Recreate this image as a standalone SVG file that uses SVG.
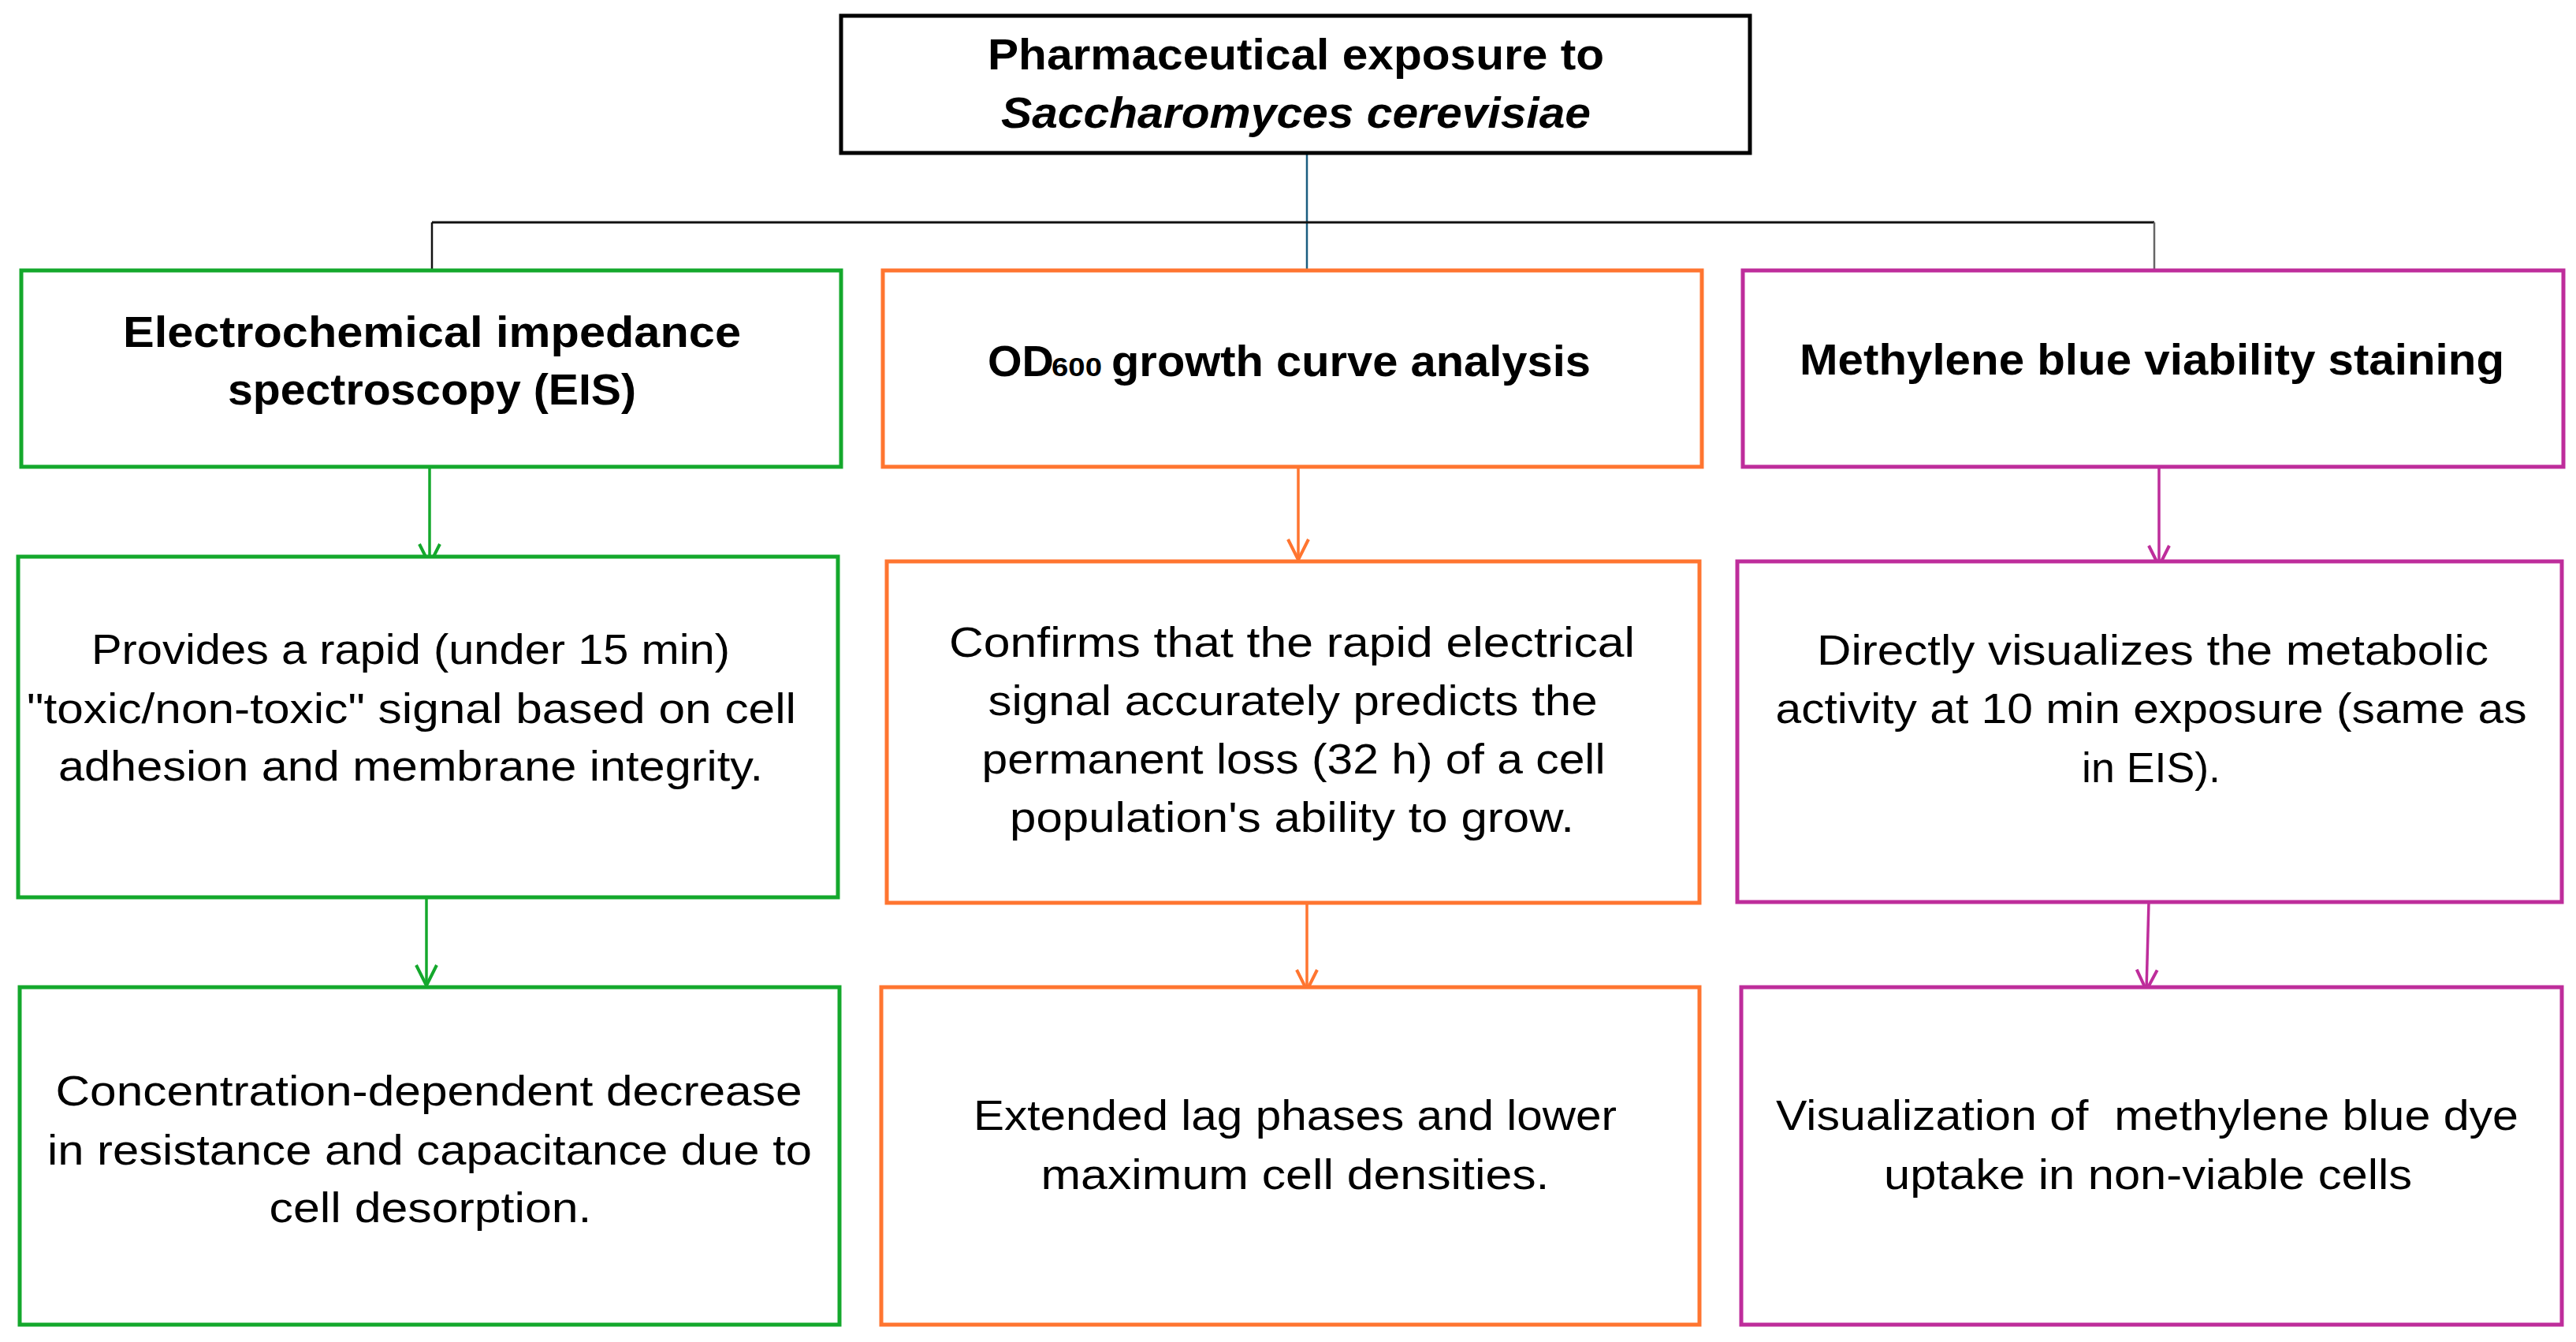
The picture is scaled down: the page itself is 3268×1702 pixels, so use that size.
<svg xmlns="http://www.w3.org/2000/svg" width="3268" height="1702" viewBox="0 0 3268 1702">
<style>
.t{font-family:"Liberation Sans",Arial,sans-serif;font-size:53px;fill:#000;text-anchor:middle}
.h{font-family:"Liberation Sans",Arial,sans-serif;font-size:56px;font-weight:bold;fill:#000;text-anchor:middle}
.bx{fill:#fff;stroke-width:5}
.g{stroke:#14A82C}.o{stroke:#FF7530}.m{stroke:#BE2D9B}
.ln{fill:none;stroke-width:3.5}
</style>
<defs>
<marker id="ag" markerUnits="userSpaceOnUse" viewBox="-30 -18 34 36" markerWidth="34" markerHeight="36" refX="0" refY="0" orient="auto"><path d="M-26,-13 L0,0 L-26,13" fill="none" stroke="#14A82C" stroke-width="4"/></marker>
<marker id="ao" markerUnits="userSpaceOnUse" viewBox="-30 -18 34 36" markerWidth="34" markerHeight="36" refX="0" refY="0" orient="auto"><path d="M-26,-13 L0,0 L-26,13" fill="none" stroke="#FF7530" stroke-width="4"/></marker>
<marker id="am" markerUnits="userSpaceOnUse" viewBox="-30 -18 34 36" markerWidth="34" markerHeight="36" refX="0" refY="0" orient="auto"><path d="M-26,-13 L0,0 L-26,13" fill="none" stroke="#BE2D9B" stroke-width="4"/></marker>
</defs>
<rect width="3268" height="1702" fill="#fff"/>

<g id="connectors">
<line x1="1658" y1="195" x2="1658" y2="343" stroke="#1B5E80" stroke-width="2.5"/>
<line x1="548" y1="282" x2="2733" y2="282" stroke="#111" stroke-width="3"/>
<line x1="548" y1="282" x2="548" y2="343" stroke="#111" stroke-width="2.5"/>
<line x1="2733" y1="282" x2="2733" y2="343" stroke="#666" stroke-width="2.5"/>
<line class="ln g" x1="545" y1="592" x2="545" y2="716" marker-end="url(#ag)"/>
<line class="ln g" x1="541" y1="1138" x2="541" y2="1250" marker-end="url(#ag)"/>
<line class="ln o" x1="1647" y1="592" x2="1647" y2="710" marker-end="url(#ao)"/>
<line class="ln o" x1="1658" y1="1137" x2="1658" y2="1256" marker-end="url(#ao)"/>
<line class="ln m" x1="2739" y1="592" x2="2739" y2="718" marker-end="url(#am)"/>
<line class="ln m" x1="2726" y1="1144" x2="2723" y2="1256" marker-end="url(#am)"/>
</g>

<g id="root">
<rect class="bx" x="1067" y="20" width="1153" height="174" stroke="#000"/>
<text class="h" x="1644" y="88" textLength="782" lengthAdjust="spacingAndGlyphs">Pharmaceutical exposure to</text>
<text class="h" x="1644" y="162" font-style="italic" textLength="748" lengthAdjust="spacingAndGlyphs">Saccharomyces cerevisiae</text>
</g>

<g id="eis">
<rect class="bx g" x="27" y="343" width="1040" height="249"/>
<text class="h" x="548" y="440" textLength="784" lengthAdjust="spacingAndGlyphs">Electrochemical impedance</text>
<text class="h" x="548" y="513" textLength="518" lengthAdjust="spacingAndGlyphs">spectroscopy (EIS)</text>
</g>

<g id="od600">
<rect class="bx o" x="1120" y="343" width="1039" height="249"/>
<text class="h" y="477" style="text-anchor:start"><tspan x="1253" textLength="84" lengthAdjust="spacingAndGlyphs">OD</tspan><tspan x="1334" font-size="33" textLength="64" lengthAdjust="spacingAndGlyphs">600</tspan><tspan x="1410" textLength="608" lengthAdjust="spacingAndGlyphs">growth curve analysis</tspan></text>
</g>

<g id="methylene">
<rect class="bx m" x="2211" y="343" width="1041" height="249"/>
<text class="h" x="2730" y="475" textLength="894" lengthAdjust="spacingAndGlyphs">Methylene blue viability staining</text>
</g>

<g id="eis-signal">
<rect class="bx g" x="23" y="706" width="1040" height="432"/>
<text class="t" x="521" y="842" textLength="810" lengthAdjust="spacingAndGlyphs">Provides a rapid (under 15 min)</text>
<text class="t" x="522" y="917" textLength="976" lengthAdjust="spacingAndGlyphs">"toxic/non-toxic" signal based on cell</text>
<text class="t" x="521" y="990" textLength="894" lengthAdjust="spacingAndGlyphs">adhesion and membrane integrity.</text>
</g>

<g id="od-confirm">
<rect class="bx o" x="1125" y="712" width="1031" height="433"/>
<text class="t" x="1639" y="833" textLength="870" lengthAdjust="spacingAndGlyphs">Confirms that the rapid electrical</text>
<text class="t" x="1640" y="907" textLength="773" lengthAdjust="spacingAndGlyphs">signal accurately predicts the</text>
<text class="t" x="1641" y="981" textLength="791" lengthAdjust="spacingAndGlyphs">permanent loss (32 h) of a cell</text>
<text class="t" x="1639" y="1055" textLength="716" lengthAdjust="spacingAndGlyphs">population's ability to grow.</text>
</g>

<g id="mb-visualize">
<rect class="bx m" x="2204" y="712" width="1046" height="432"/>
<text class="t" x="2731" y="843" textLength="852" lengthAdjust="spacingAndGlyphs">Directly visualizes the metabolic</text>
<text class="t" x="2729" y="917" textLength="953" lengthAdjust="spacingAndGlyphs">activity at 10 min exposure (same as</text>
<text class="t" x="2729" y="992" textLength="176" lengthAdjust="spacingAndGlyphs">in EIS).</text>
</g>

<g id="eis-result">
<rect class="bx g" x="25" y="1252" width="1040" height="428"/>
<text class="t" x="544" y="1402" textLength="947" lengthAdjust="spacingAndGlyphs">Concentration-dependent decrease</text>
<text class="t" x="545" y="1477" textLength="970" lengthAdjust="spacingAndGlyphs">in resistance and capacitance due to</text>
<text class="t" x="546" y="1550" textLength="409" lengthAdjust="spacingAndGlyphs">cell desorption.</text>
</g>

<g id="od-result">
<rect class="bx o" x="1118" y="1252" width="1038" height="428"/>
<text class="t" x="1643" y="1433" textLength="816" lengthAdjust="spacingAndGlyphs">Extended lag phases and lower</text>
<text class="t" x="1643" y="1508" textLength="645" lengthAdjust="spacingAndGlyphs">maximum cell densities.</text>
</g>

<g id="mb-result">
<rect class="bx m" x="2209" y="1252" width="1041" height="428"/>
<text class="t" x="2724" y="1433" xml:space="preserve" textLength="942" lengthAdjust="spacingAndGlyphs">Visualization of  methylene blue dye</text>
<text class="t" x="2725" y="1508" textLength="670" lengthAdjust="spacingAndGlyphs">uptake in non-viable cells</text>
</g>
</svg>
